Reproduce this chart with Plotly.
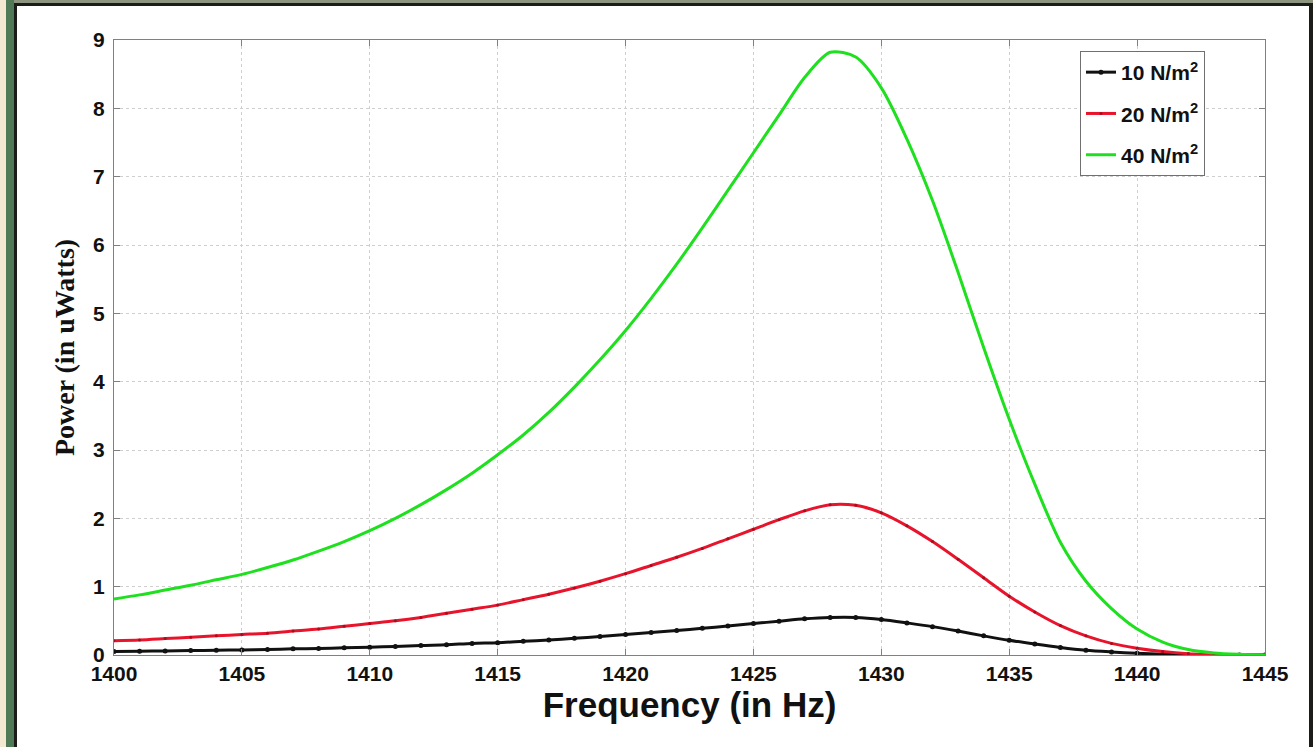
import plotly.graph_objects as go

freq = list(range(1400, 1446))

p10 = [0.05, 0.055, 0.06, 0.065, 0.07, 0.075, 0.08, 0.09, 0.095, 0.105,
       0.115, 0.125, 0.14, 0.15, 0.17, 0.18, 0.20, 0.22, 0.245, 0.27,
       0.30, 0.33, 0.36, 0.39, 0.425, 0.46, 0.495, 0.53, 0.55, 0.55,
       0.52, 0.47, 0.415, 0.35, 0.28, 0.215, 0.16, 0.11, 0.07, 0.045,
       0.025, 0.012, 0.005, 0.002, 0.0, 0.0]

p20 = [0.21, 0.22, 0.24, 0.26, 0.28, 0.30, 0.32, 0.35, 0.38, 0.42,
       0.46, 0.50, 0.55, 0.61, 0.67, 0.73, 0.81, 0.89, 0.98, 1.08,
       1.19, 1.31, 1.43, 1.56, 1.70, 1.84, 1.98, 2.11, 2.20, 2.19,
       2.08, 1.89, 1.66, 1.40, 1.13, 0.86, 0.63, 0.43, 0.28, 0.17,
       0.10, 0.05, 0.02, 0.01, 0.0, 0.0]

p40 = [0.82, 0.88, 0.95, 1.02, 1.10, 1.18, 1.28, 1.39, 1.52, 1.66,
       1.82, 2.00, 2.20, 2.42, 2.66, 2.93, 3.22, 3.55, 3.92, 4.32,
       4.75, 5.22, 5.72, 6.25, 6.80, 7.35, 7.90, 8.45, 8.82, 8.75,
       8.30, 7.55, 6.65, 5.60, 4.50, 3.45, 2.50, 1.65, 1.08, 0.68,
       0.38, 0.19, 0.08, 0.03, 0.01, 0.0]

names = ["<b>10 N/m<sup>2</sup></b>", "<b>20 N/m<sup>2</sup></b>", "<b>40 N/m<sup>2</sup></b>"]
xticks = [1400, 1405, 1410, 1415, 1420, 1425, 1430, 1435, 1440, 1445]
yticks = list(range(0, 10))

W, H = 1313, 747
L, R, T, B = 114, 48, 40, 92
PW, PH = W - L - R, H - T - B


def px(x):
    return (x - L) / PW


def py(y):
    return (H - B - y) / PH


fig = go.Figure()
fig.add_trace(go.Scatter(x=freq, y=p10, name=names[0], mode="lines+markers",
                         line=dict(color="#111111", width=3, shape="spline", smoothing=0.8),
                         marker=dict(color="#111111", size=5),
                         legendgroup="a"))
fig.add_trace(go.Scatter(x=freq, y=p20, name=names[1], mode="lines+markers",
                         line=dict(color="#e8142c", width=3, shape="spline", smoothing=0.8),
                         marker=dict(color="#a01020", size=3),
                         legendgroup="b"))
fig.add_trace(go.Scatter(x=freq, y=p40, name=names[2], mode="lines",
                         line=dict(color="#1ee01e", width=3, shape="spline", smoothing=0.8),
                         legendgroup="c"))

shapes = [
    dict(type="rect", xref="paper", yref="paper", x0=px(0), x1=px(6),
         y0=py(H), y1=py(0), fillcolor="#f3e9d2", line_width=0, layer="above"),
    dict(type="rect", xref="paper", yref="paper", x0=px(6), x1=px(14),
         y0=py(H), y1=py(0), fillcolor="#507a56", line_width=0, layer="above"),
    dict(type="rect", xref="paper", yref="paper", x0=px(14), x1=px(17),
         y0=py(H), y1=py(3), fillcolor="#1c1c18", line_width=0, layer="above"),
    dict(type="rect", xref="paper", yref="paper", x0=px(14), x1=px(W),
         y0=py(3), y1=py(0), fillcolor="#8d9480", line_width=0, layer="above"),
    dict(type="rect", xref="paper", yref="paper", x0=px(14), x1=px(W),
         y0=py(6), y1=py(3), fillcolor="#1c1c18", line_width=0, layer="above"),
    dict(type="rect", xref="paper", yref="paper", x0=px(W - 4), x1=px(W),
         y0=py(H), y1=py(3), fillcolor="#1c1c18", line_width=0, layer="above"),
]

fig.update_layout(
    width=W, height=H,
    margin=dict(l=L, r=R, t=T, b=B),
    paper_bgcolor="white", plot_bgcolor="white",
    showlegend=True,
    legend=dict(x=px(1080), y=py(51), xanchor="left", yanchor="top",
                bgcolor="white", bordercolor="#707070", borderwidth=1,
                font=dict(family="Liberation Sans, Arial", size=21, color="#111111"),
                traceorder="grouped", tracegroupgap=11, itemwidth=30),
    shapes=shapes,
    font=dict(family="Liberation Sans, Arial", color="#111111"),
)

fig.update_xaxes(range=[1400, 1445], tickvals=xticks,
                 ticktext=["<b>%d</b>" % v for v in xticks],
                 tickfont=dict(family="Liberation Sans, Arial", size=21, color="#111111"),
                 showgrid=True, gridcolor="#cfcfcf", griddash="dot", gridwidth=1,
                 showline=True, linecolor="#808080", linewidth=1, mirror="ticks",
                 ticks="inside", ticklen=6, tickcolor="#808080",
                 zeroline=False,
                 title=dict(text="<b>Frequency (in Hz)</b>", standoff=0,
                            font=dict(family="Liberation Sans, Arial", size=35, color="#111111")))

fig.update_yaxes(range=[0, 9], tickvals=yticks,
                 ticktext=["<b>%d</b>" % v for v in yticks],
                 tickfont=dict(family="Liberation Sans, Arial", size=21, color="#111111"),
                 showgrid=True, gridcolor="#cfcfcf", griddash="dot", gridwidth=1,
                 showline=True, linecolor="#808080", linewidth=1, mirror="ticks",
                 ticks="inside", ticklen=6, tickcolor="#808080",
                 zeroline=False, ticklabelstandoff=4,
                 title=dict(text="<b>Power (in uWatts)</b>", standoff=10,
                            font=dict(family="Liberation Serif, Times New Roman", size=28, color="#111111")))

fig.write_html("out.html")
